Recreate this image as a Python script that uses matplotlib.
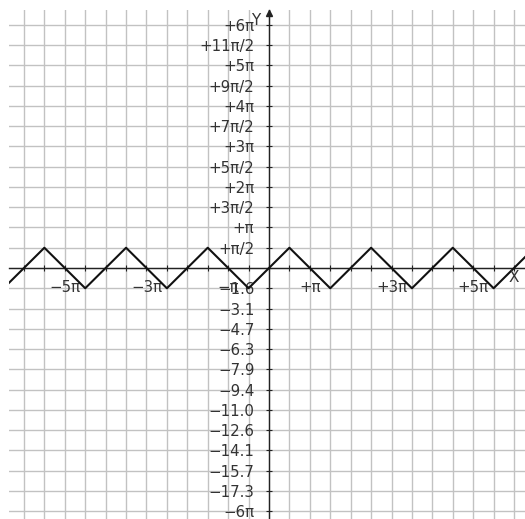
import numpy as np
import matplotlib.pyplot as plt

# corners of the triangle wave (x in units of pi/2), plus the two ends of the window
half_pi = np.pi / 2
corner_k = [-11, -9, -7, -5, -3, -1, 1, 3, 5, 7, 9, 11]
corner_y = [1, -1, 1, -1, 1, -1, 1, -1, 1, -1, 1, -1]
end_x = [-20.0, 20.0]
end_y = [-1.15, 1.15]

# tick labels
xtick_k = [-10, -6, -2, 2, 6, 10]
xtick_labels = ['−5π', '−3π', '−π', '+π', '+3π', '+5π']
ytick_k = list(range(-12, 13))
ytick_labels = ['−6π', '−17.3', '−15.7', '−14.1', '−12.6', '−11.0', '−9.4', '−7.9',
                '−6.3', '−4.7', '−3.1', '−1.6', '',
                '+π/2', '+π', '+3π/2', '+2π', '+5π/2', '+3π', '+7π/2', '+4π',
                '+9π/2', '+5π', '+11π/2', '+6π']

wave_x = [end_x[0]] + [k * half_pi for k in corner_k] + [end_x[1]]
wave_y = [end_y[0]] + [v * half_pi for v in corner_y] + [end_y[1]]

fig = plt.figure(figsize=(5.25, 5.19), dpi=100)
# axes box runs a little past the right/bottom edge of the figure
ax = fig.add_axes([9 / 525, 1 - 526 / 519, 520 / 525, 516 / 519])
ax.set_xlim(-20, 20)
ax.set_ylim(-20, 20)

grid = np.arange(-12, 13) * half_pi
for g in grid:
    ax.axvline(g, color='#c2c2c2', lw=1.0, zorder=0)
    ax.axhline(g, color='#c2c2c2', lw=1.0, zorder=0)

ax.plot(wave_x, wave_y, color='#111111', lw=1.5, zorder=3)

for s in ['top', 'right']:
    ax.spines[s].set_visible(False)
for s in ['left', 'bottom']:
    ax.spines[s].set_position('zero')
    ax.spines[s].set_color('#222222')
    ax.spines[s].set_linewidth(1.0)

# arrow heads on the axes
ax.plot([0], [19.75], marker='^', color='#222222', ms=5, clip_on=False, zorder=4)
ax.plot([20], [0], marker='>', color='#222222', ms=5, clip_on=False, zorder=4)

ax.set_xticks(grid, minor=True)
ax.set_xticks([k * half_pi for k in xtick_k])
ax.set_xticklabels(xtick_labels)
ax.set_yticks([k * half_pi for k in ytick_k])
ax.set_yticklabels(ytick_labels)
ax.tick_params(which='both', direction='inout', length=5, width=0.8, color='#222222',
               labelsize=10.8, labelcolor='#333333')
ax.tick_params(axis='x', pad=6)
ax.tick_params(axis='y', pad=8)

ax.text(-1.0, 19.15, 'Y', fontsize=11, color='#333333', ha='center', va='center')
ax.text(18.8, -0.77, 'X', fontsize=11, color='#333333', ha='center', va='center')

fig.savefig('out.png', dpi=100)
